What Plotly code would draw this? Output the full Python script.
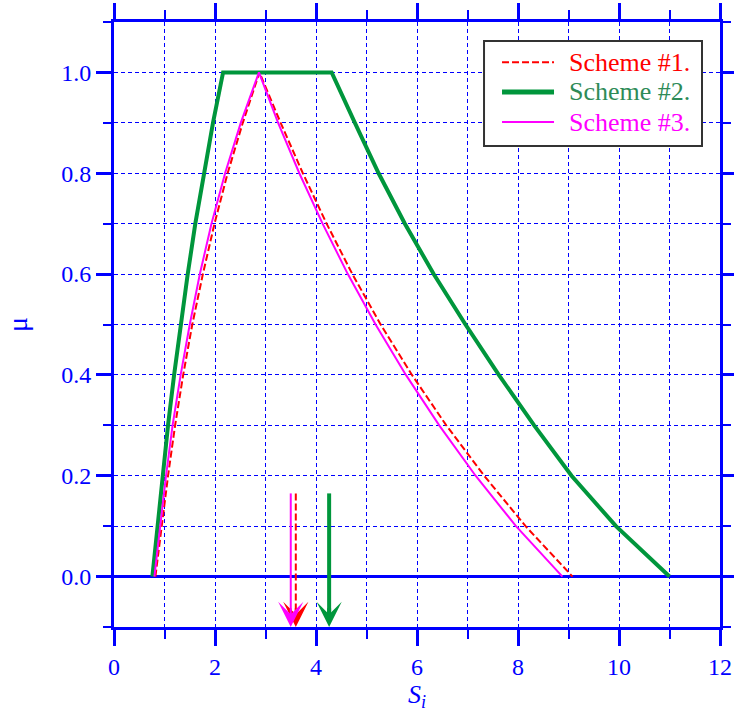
import plotly.graph_objects as go

# ---- data ----
mu_levels = [0.0, 0.1, 0.2, 0.3, 0.4, 0.5, 0.6, 0.7, 0.8, 0.9, 1.0]

scheme1_left = [0.82, 0.94, 1.07, 1.21, 1.37, 1.55, 1.76, 1.99, 2.25, 2.55, 2.88]
scheme1_right = [9.08, 8.15, 7.33, 6.58, 5.90, 5.28, 4.72, 4.21, 3.74, 3.30, 2.88]

scheme2_left = [0.76, 0.86, 0.96, 1.07, 1.19, 1.32, 1.46, 1.61, 1.78, 1.96, 2.16]
scheme2_right = [11.0, 9.94, 9.06, 8.32, 7.62, 6.96, 6.33, 5.76, 5.24, 4.77, 4.31]

scheme3_left = [0.80, 0.91, 1.03, 1.16, 1.32, 1.50, 1.70, 1.93, 2.20, 2.51, 2.87]
scheme3_right = [8.88, 7.96, 7.16, 6.44, 5.78, 5.18, 4.63, 4.13, 3.67, 3.25, 2.87]

scheme_names = ["Scheme #1.", "Scheme #2.", "Scheme #3."]
arrow_x = [3.60, 4.26, 3.50]
arrow_top = 0.165
arrow_tip = -0.1

x_ticks = [0, 2, 4, 6, 8, 10, 12]
y_ticks = [0.0, 0.2, 0.4, 0.6, 0.8, 1.0]

# ---- styles ----
BLUE = "#0000FF"
colors = ["#FF0000", "#00963C", "#FF00FF"]
text_colors = ["#FF0000", "#2E8B57", "#FF00FF"]
widths = [2, 4, 2]
dashes = ["7px,3px", "solid", "solid"]
FONT = "Liberation Serif, Times New Roman, serif"

fig = go.Figure()

lefts = [scheme1_left, scheme2_left, scheme3_left]
rights = [scheme1_right, scheme2_right, scheme3_right]
for i in range(3):
    xs = lefts[i] + rights[i][::-1]
    ys = mu_levels + mu_levels[::-1]
    fig.add_trace(go.Scatter(
        x=xs, y=ys, mode="lines", name=scheme_names[i],
        line=dict(color=colors[i], width=widths[i], dash=dashes[i]),
        showlegend=False, hoverinfo="skip",
    ))

# arrows: shafts as line traces, heads as annotations
for i in range(3):
    fig.add_trace(go.Scatter(
        x=[arrow_x[i], arrow_x[i]], y=[arrow_top, arrow_tip + 0.025],
        mode="lines", showlegend=False, hoverinfo="skip",
        line=dict(color=colors[i], width=widths[i], dash=dashes[i]),
        cliponaxis=False,
    ))
    fig.add_annotation(
        x=arrow_x[i], y=arrow_tip, ax=arrow_x[i], ay=arrow_tip + 0.04,
        xref="x", yref="y", axref="x", ayref="y",
        text="", showarrow=True, arrowhead=3,
        arrowsize=2.1 if widths[i] == 2 else 1.05,
        arrowwidth=widths[i], arrowcolor=colors[i], standoff=0,
    )

# legend box (drawn manually to match the reference layout)
leg_x0, leg_x1, leg_y0, leg_y1 = 0.6106, 0.9703, 0.7950, 0.9686
leg_line_x0, leg_line_x1, leg_text_x = 0.6403, 0.7261, 0.7475
leg_rows = [0.9334, 0.8843, 0.8347]
fig.add_shape(type="rect", xref="paper", yref="paper",
              x0=leg_x0, x1=leg_x1, y0=leg_y0, y1=leg_y1,
              line=dict(color="#333333", width=2), fillcolor="white", layer="above")
for i in range(3):
    fig.add_shape(type="line", xref="paper", yref="paper",
                  x0=leg_line_x0, x1=leg_line_x1, y0=leg_rows[i], y1=leg_rows[i],
                  line=dict(color=colors[i], width=widths[i] + (1 if i == 1 else 0),
                            dash=dashes[i]),
                  layer="above")
    fig.add_annotation(x=leg_text_x, y=leg_rows[i], xref="paper", yref="paper",
                       text=scheme_names[i], showarrow=False,
                       xanchor="left", yanchor="middle",
                       font=dict(family=FONT, size=26, color=text_colors[i]))

minor_common = dict(ticks="outside", tickwidth=2, tickcolor=BLUE, showgrid=True,
                    gridcolor=BLUE, gridwidth=1, griddash="4px,3px")

fig.update_xaxes(
    range=[0, 12], tickvals=x_ticks, ticktext=[str(v) for v in x_ticks],
    showline=True, linecolor=BLUE, linewidth=3, mirror="allticks",
    ticks="outside", ticklen=16, tickwidth=3, tickcolor=BLUE,
    showgrid=True, gridcolor=BLUE, gridwidth=1, griddash="4px,3px",
    zeroline=False, automargin=False,
    minor=dict(dtick=1, tick0=0, ticklen=9, **minor_common),
    tickfont=dict(family=FONT, size=24, color=BLUE),
    title=dict(text="<i>S</i><sub><i>i</i></sub>",
               font=dict(family=FONT, size=26, color=BLUE), standoff=2),
)
fig.update_yaxes(
    range=[-0.1, 1.1], tickvals=y_ticks, ticktext=[f"{v:.1f}" for v in y_ticks],
    showline=True, linecolor=BLUE, linewidth=3, mirror="allticks",
    ticks="outside", ticklen=15, tickwidth=3, tickcolor=BLUE,
    showgrid=True, gridcolor=BLUE, gridwidth=1, griddash="4px,3px",
    zeroline=True, zerolinecolor=BLUE, zerolinewidth=3, automargin=False,
    minor=dict(dtick=0.1, tick0=0, ticklen=8, **minor_common),
    tickfont=dict(family=FONT, size=24, color=BLUE),
    title=dict(text="μ", font=dict(family=FONT, size=28, color=BLUE), standoff=26),
)

# plot area at x 114..720, y 22..627 of the 734x713 page
fig.update_layout(
    width=734, height=713,
    margin=dict(l=114, r=14, t=22, b=86),
    paper_bgcolor="white", plot_bgcolor="white",
    font=dict(family=FONT, size=24, color=BLUE),
    showlegend=False,
)

fig.write_html(
    "out.html",
    config={"displayModeBar": False},
    post_script="document.body.style.margin='0';document.body.style.overflow='hidden';",
)
